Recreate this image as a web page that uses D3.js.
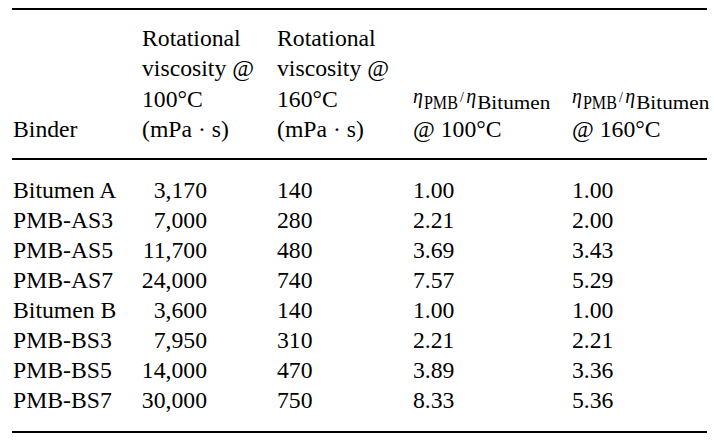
<!DOCTYPE html>
<html>
<head>
<meta charset="utf-8">
<script src="https://cdn.jsdelivr.net/npm/d3@7"></script>
<style>
  html, body { margin: 0; padding: 0; background: #fff; }
  svg text { font-family: "Liberation Serif", "Times New Roman", serif; fill: #000; }
</style>
</head>
<body>
<div id="table"></div>
<script>
const WIDTH = 714;
const HEIGHT = 440;
const FONT = 23.7;

// table data
const binders = ['Bitumen A', 'PMB-AS3', 'PMB-AS5', 'PMB-AS7', 'Bitumen B', 'PMB-BS3', 'PMB-BS5', 'PMB-BS7'];
const visc100 = [3170, 7000, 11700, 24000, 3600, 7950, 14000, 30000];
const visc160 = [140, 280, 480, 740, 140, 310, 470, 750];
const ratio100 = [1.00, 2.21, 3.69, 7.57, 1.00, 2.21, 3.89, 8.33];
const ratio160 = [1.00, 2.00, 3.43, 5.29, 1.00, 2.21, 3.36, 5.36];

const headBinder = ['', '', '', 'Binder'];
const headVisc100 = ['Rotational', 'viscosity @', '100°C', '(mPa · s)'];
const headVisc160 = ['Rotational', 'viscosity @', '160°C', '(mPa · s)'];
const headRatioTemps = ['@ 100°C', '@ 160°C'];

const svg = d3.select('#table').append('svg')
  .attr('width', WIDTH)
  .attr('height', HEIGHT)
  .attr('viewBox', [0, 0, WIDTH, HEIGHT]);

// row / header-line baselines
const yRow = d3.scalePoint().domain(binders).range([198, 408]);
const yHead = d3.scalePoint().domain(d3.range(4)).range([46, 137]);

// column anchors (left edge unless noted)
const col = { binder: 13, v100Left: 142, v100Right: 207, v160: 277, r100: 413, r160: 572 };

// rules
const rules = [{ y: 9 }, { y: 159 }, { y: 432 }];
svg.append('g').selectAll('line')
  .data(rules)
  .enter().append('line')
  .attr('x1', 12).attr('x2', 707)
  .attr('y1', (d) => d.y).attr('y2', (d) => d.y)
  .attr('stroke', '#000')
  .attr('stroke-width', 2);

// stacked header cells
function headCell(lines, x) {
  svg.append('g').selectAll('text')
    .data(lines)
    .enter().append('text')
    .attr('x', x)
    .attr('y', (d, i) => yHead(i))
    .attr('font-size', FONT)
    .text((d) => d);
}
headCell(headBinder, col.binder);
headCell(headVisc100, col.v100Left);
headCell(headVisc160, col.v160);

// ratio headers: eta_PMB / eta_Bitumen @ T
[col.r100, col.r160].forEach((x, i) => {
  const base = yHead(3) - 34;
  const t = svg.append('text')
    .attr('x', x)
    .attr('y', base);
  t.append('tspan').attr('font-style', 'italic').attr('font-size', 20).text('η');
  t.append('tspan').attr('font-size', 19).attr('dy', 6).attr('dx', 1)
    .attr('textLength', 34).attr('lengthAdjust', 'spacingAndGlyphs').text('PMB');
  t.append('tspan').attr('font-size', 14).attr('dy', -7).attr('dx', 2).text('/');
  t.append('tspan').attr('font-style', 'italic').attr('font-size', 20).attr('dy', 1).attr('dx', 2.5).text('η');
  t.append('tspan').attr('font-size', 19).attr('dy', 6).attr('dx', 1)
    .attr('textLength', 73).attr('lengthAdjust', 'spacingAndGlyphs').text('Bitumen');

  svg.append('text')
    .attr('x', x)
    .attr('y', yHead(3))
    .attr('font-size', FONT)
    .text(headRatioTemps[i]);
});

// body
const fmtInt = d3.format(',');
const fmtRatio = d3.format('.2f');

const rows = svg.append('g').selectAll('g')
  .data(binders.map((b, i) => ({
    binder: b, v100: visc100[i], v160: visc160[i], r100: ratio100[i], r160: ratio160[i]
  })))
  .enter().append('g')
  .attr('transform', (d) => `translate(0,${yRow(d.binder)})`)
  .attr('font-size', FONT);

rows.append('text').attr('x', col.binder).text((d) => d.binder);
rows.append('text').attr('x', col.v100Right).attr('text-anchor', 'end').text((d) => fmtInt(d.v100));
rows.append('text').attr('x', col.v160).text((d) => d.v160);
rows.append('text').attr('x', col.r100).text((d) => fmtRatio(d.r100));
rows.append('text').attr('x', col.r160).text((d) => fmtRatio(d.r160));
</script>
</body>
</html>
